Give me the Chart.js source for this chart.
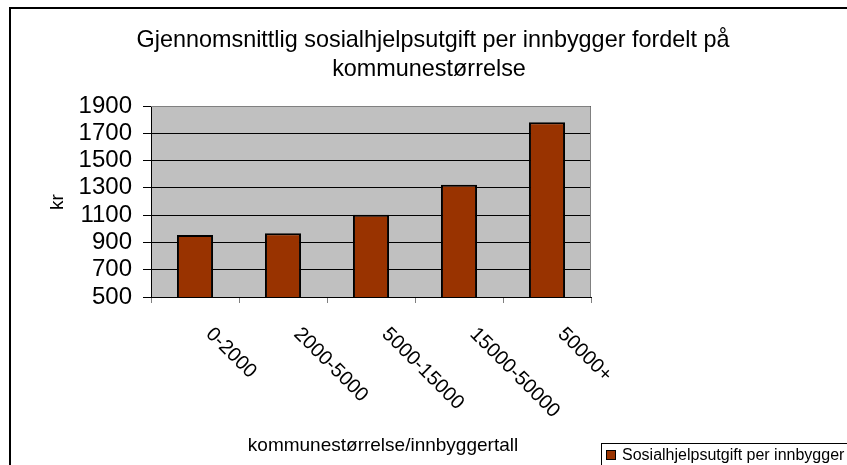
<!DOCTYPE html>
<html>
<head>
<meta charset="utf-8">
<script src="https://cdn.jsdelivr.net/npm/chart.js@4"></script>
<style>
  html, body { margin: 0; padding: 0; background: #fff; }
  #wrap { width: 847px; height: 465px; }
</style>
</head>
<body>
<div id="wrap"><canvas id="c" width="847" height="465"></canvas></div>
<script>
const titleLines = ["Gjennomsnittlig sosialhjelpsutgift per innbygger fordelt på", "kommunestørrelse"];
const categories = ["0-2000", "2000-5000", "5000-15000", "15000-50000", "50000+"];
const values = [955, 967, 1102, 1322, 1780];
const seriesName = "Sosialhjelpsutgift per innbygger";
const yAxisTitle = "kr";
const xAxisTitle = "kommunestørrelse/innbyggertall";
const yMin = 500, yMax = 1900, yStep = 200;

const FONT = '"Liberation Sans", Arial, sans-serif';

const decor = {
  id: 'decor',
  beforeDraw(chart) {
    const { ctx, chartArea: a } = chart;
    ctx.save();
    ctx.fillStyle = '#fff';
    ctx.fillRect(0, 0, chart.width, chart.height);
    ctx.fillStyle = '#C0C0C0';
    ctx.fillRect(a.left, a.top, a.right - a.left, a.bottom - a.top);
    ctx.restore();
  },
  afterDraw(chart) {
    const { ctx, chartArea: a } = chart;
    const xs = chart.scales.x;
    ctx.save();
    // plot border (top/right gray)
    ctx.strokeStyle = '#808080';
    ctx.lineWidth = 1;
    ctx.beginPath();
    ctx.moveTo(a.left, a.top + 0.5);
    ctx.lineTo(a.right - 0.5, a.top + 0.5);
    ctx.lineTo(a.right - 0.5, a.bottom);
    ctx.stroke();
    // outer border
    ctx.strokeStyle = '#000';
    ctx.lineWidth = 2;
    ctx.strokeRect(10, 8, 900, 600);
    // title
    ctx.fillStyle = '#000';
    ctx.font = '23.4px ' + FONT;
    ctx.textAlign = 'center';
    ctx.textBaseline = 'middle';
    ctx.fillText(titleLines[0], 433, 41);
    ctx.fillText(titleLines[1], 429, 70);
    // y axis title
    ctx.save();
    ctx.translate(58, 202);
    ctx.rotate(-Math.PI / 2);
    ctx.font = '19px ' + FONT;
    ctx.fillText(yAxisTitle, 0, 0);
    ctx.restore();
    // x axis title
    ctx.font = '19px ' + FONT;
    ctx.fillText(xAxisTitle, 383, 446);
    // x tick labels rotated 45deg clockwise
    ctx.font = '20px ' + FONT;
    ctx.textAlign = 'left';
    ctx.textBaseline = 'middle';
    categories.forEach((c, i) => {
      const x = xs.getPixelForValue(i);
      ctx.save();
      ctx.translate(x + 14, 331);
      ctx.rotate(Math.PI / 4);
      ctx.fillText(c, 0, 0);
      ctx.restore();
    });
    // legend
    const ds = chart.data.datasets[0];
    ctx.strokeStyle = '#000';
    ctx.lineWidth = 1;
    ctx.strokeRect(601.5, 443.5, 400, 40);
    ctx.fillStyle = ds.backgroundColor;
    ctx.fillRect(607, 451, 8, 8);
    ctx.strokeRect(606.5, 450.5, 9, 9);
    ctx.fillStyle = '#000';
    ctx.font = '16px ' + FONT;
    ctx.textBaseline = 'middle';
    ctx.fillText(ds.label, 622, 456);
    ctx.restore();
  }
};

new Chart(document.getElementById('c'), {
  type: 'bar',
  data: {
    labels: categories,
    datasets: [{
      label: seriesName,
      data: values,
      backgroundColor: '#993300',
      borderColor: '#000',
      borderWidth: 2,
      categoryPercentage: 1,
      barPercentage: 0.41
    }]
  },
  options: {
    responsive: false,
    animation: false,
    devicePixelRatio: 1,
    layout: { padding: { left: 0, top: 106, right: 256, bottom: 0 } },
    plugins: { legend: { display: false }, title: { display: false }, tooltip: { enabled: false } },
    scales: {
      x: {
        offset: true,
        grid: { offset: true, drawOnChartArea: false, drawTicks: true, tickLength: 6, color: '#808080', tickColor: '#808080' },
        border: { color: '#000', width: 1 },
        ticks: { display: false },
        afterFit(s) { s.height = 168; }
      },
      y: {
        min: yMin, max: yMax,
        grid: { color: '#000', tickColor: '#000', lineWidth: 1, tickLength: 8, drawTicks: true },
        border: { color: '#000', width: 1 },
        ticks: {
          stepSize: yStep, autoSkip: false, color: '#000', padding: 11,
          font: { family: FONT, size: 24 },
          callback: v => String(v)
        },
        afterFit(s) { s.width = 151; }
      }
    }
  },
  plugins: [decor]
});
</script>
</body>
</html>
